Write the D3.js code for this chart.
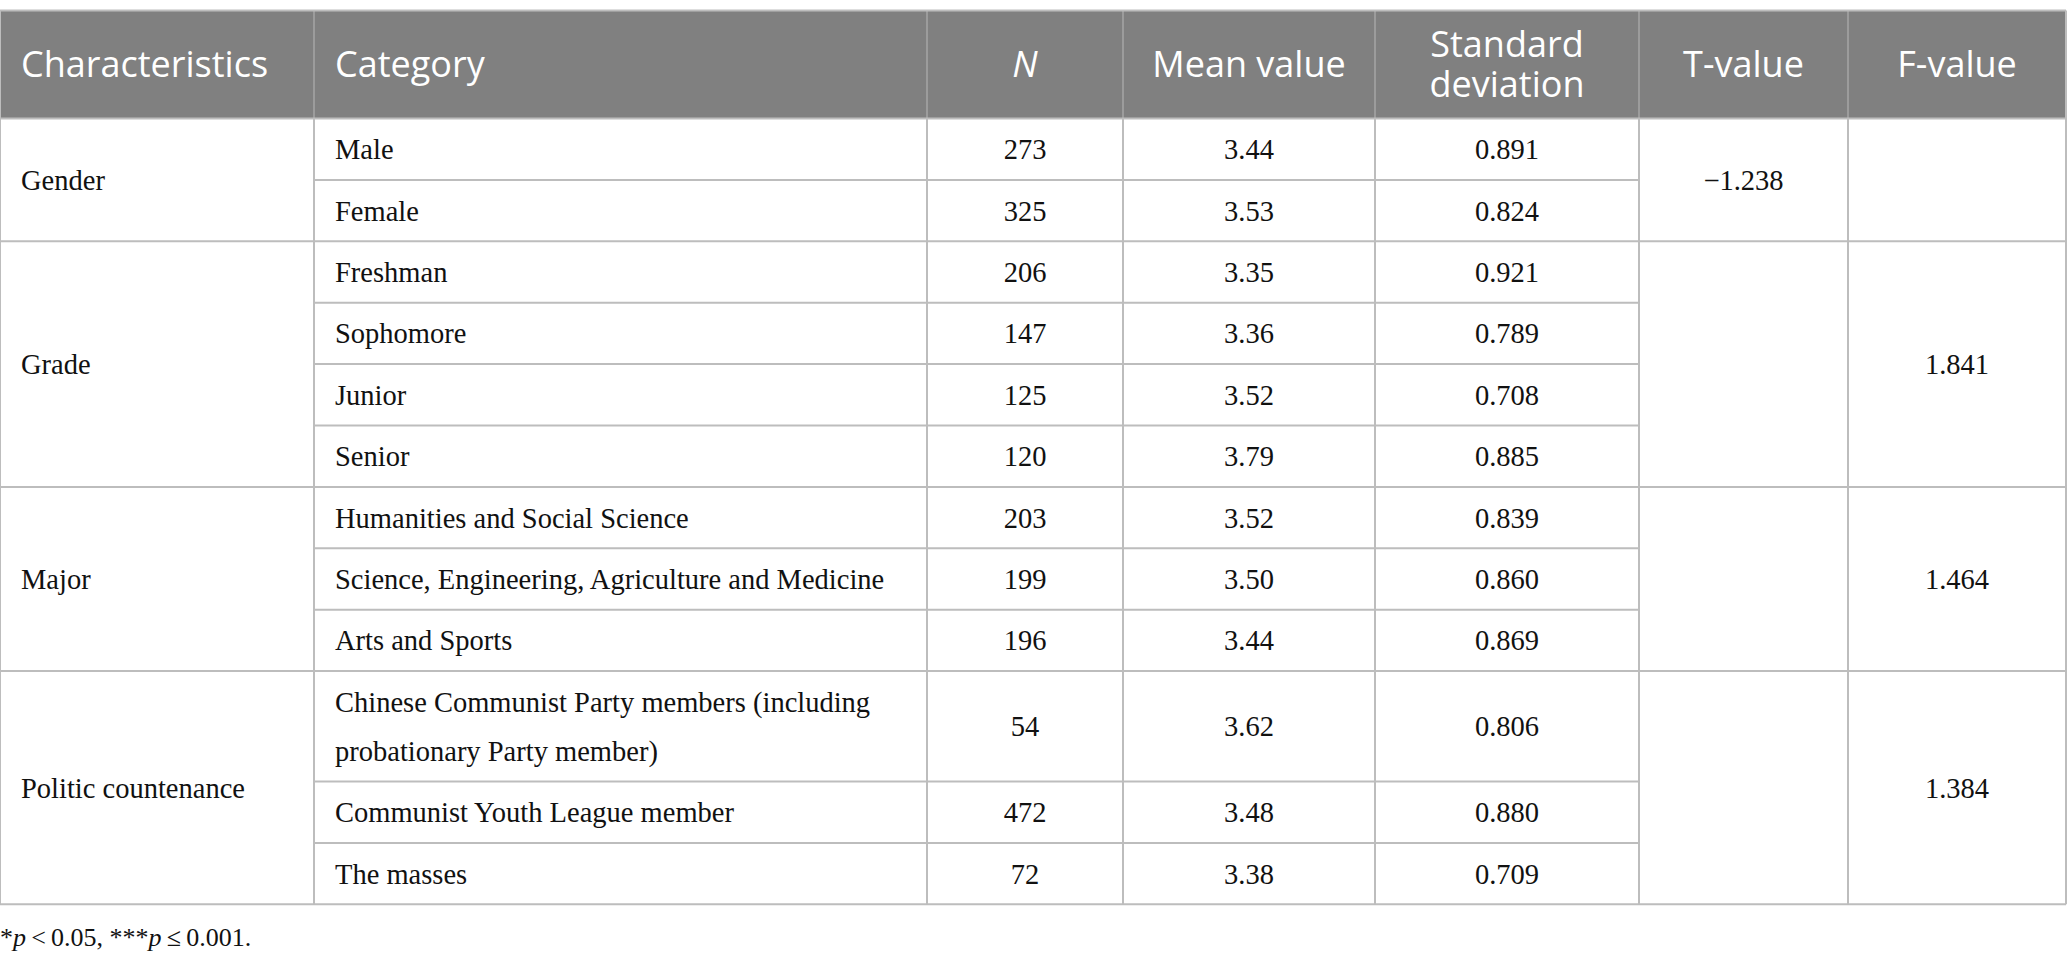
<!DOCTYPE html>
<html>
<head>
<meta charset="utf-8">
<script src="https://cdn.jsdelivr.net/npm/d3@7"></script>
<style>
  body { margin: 0; background: #fff; }
  .head { font-family: "Open Sans", sans-serif; fill: #fff; }
  .cell { font-family: "Liberation Serif", serif; fill: #111; }
</style>
</head>
<body>
<div id="table"></div>
<script>
// table content
var headers = ["Characteristics", "Category", "N", "Mean value", "Standard deviation", "T-value", "F-value"];
var groups = ["Gender", "Grade", "Major", "Politic countenance"];
var groupSizes = [2, 4, 3, 3];
var categories = ["Male", "Female", "Freshman", "Sophomore", "Junior", "Senior",
  "Humanities and Social Science", "Science, Engineering, Agriculture and Medicine", "Arts and Sports",
  "Chinese Communist Party members (including probationary Party member)",
  "Communist Youth League member", "The masses"];
var nValues = [273, 325, 206, 147, 125, 120, 203, 199, 196, 54, 472, 72];
var meanValues = [3.44, 3.53, 3.35, 3.36, 3.52, 3.79, 3.52, 3.50, 3.44, 3.62, 3.48, 3.38];
var sdValues = [0.891, 0.824, 0.921, 0.789, 0.708, 0.885, 0.839, 0.860, 0.869, 0.806, 0.880, 0.709];
var tValues = [-1.238, null, null, null];
var fValues = [null, 1.841, 1.464, 1.384];

// layout
var width = 2067, height = 964;
var top0 = 10.5, headH = 108, rowH = 61.4, lineGap = 49;
var colEdges = [0, 314, 927, 1123, 1375, 1639, 1848, 2066];
var pad = 21;
var lineColor = "#bdbdbd";
var bodySize = 28.5, headSize = 36, headGap = 40;

var colLeft = d3.scaleOrdinal().domain(d3.range(7)).range(colEdges.slice(0, 7));
var colRight = d3.scaleOrdinal().domain(d3.range(7)).range(colEdges.slice(1));
var colMid = function(i) { return (colLeft(i) + colRight(i)) / 2; };

var svg = d3.select("#table").append("svg")
  .attr("width", width)
  .attr("height", height);

// wrap category labels so they fit the column
function wrapLines(text, maxW, size) {
  var probe = svg.append("text").attr("class", "cell").attr("font-size", size);
  var words = text.split(" "), lines = [], cur = "";
  words.forEach(function(w) {
    var test = cur ? cur + " " + w : w;
    probe.text(test);
    if (probe.node().getComputedTextLength() > maxW && cur) {
      lines.push(cur);
      cur = w;
    } else {
      cur = test;
    }
  });
  lines.push(cur);
  probe.remove();
  return lines;
}

var catLines = categories.map(function(c) { return wrapLines(c, 580, bodySize); });
var rowHeights = catLines.map(function(l) { return rowH + (l.length - 1) * lineGap; });
var rowTops = [0].concat(Array.from(d3.cumsum(rowHeights))).map(function(v) { return top0 + headH + v; });

var groupStart = [0].concat(Array.from(d3.cumsum(groupSizes)));
var groupTop = function(g) { return rowTops[groupStart[g]]; };
var groupBottom = function(g) { return rowTops[groupStart[g + 1]]; };

// header band
svg.append("rect")
  .attr("x", 0).attr("y", top0)
  .attr("width", colEdges[7]).attr("height", headH)
  .attr("fill", "#808080");

var headG = svg.append("g");
headers.forEach(function(h, i) {
  var left = i < 2;
  var parts = h === "Standard deviation" ? ["Standard", "deviation"] : [h];
  var t = headG.append("text")
    .attr("class", "head")
    .attr("font-size", headSize)
    .attr("text-anchor", left ? "start" : "middle")
    .attr("font-style", h === "N" ? "italic" : "normal")
    .attr("x", left ? colLeft(i) + pad : colMid(i));
  parts.forEach(function(p, k) {
    t.append("tspan")
      .attr("x", left ? colLeft(i) + pad : colMid(i))
      .attr("y", top0 + headH / 2 + (k - (parts.length - 1) / 2) * headGap)
      .attr("dy", "0.35em")
      .text(p);
  });
});

// header column separators
svg.append("g").selectAll("line")
  .data(colEdges.slice(1, 7))
  .join("line")
  .attr("x1", function(d) { return d; }).attr("x2", function(d) { return d; })
  .attr("y1", top0).attr("y2", top0 + headH)
  .attr("stroke", "#a6a6a6").attr("stroke-width", 1.5);

var body = svg.append("g");
var fmt2 = d3.format(".2f"), fmt3 = d3.format(".3f");
var fmtT = function(v) { return fmt3(v).replace("-", "\u2212"); };

function cellText(x, yMid, lines, anchor) {
  var t = body.append("text")
    .attr("class", "cell")
    .attr("font-size", bodySize)
    .attr("text-anchor", anchor);
  lines.forEach(function(l, k) {
    t.append("tspan")
      .attr("x", x)
      .attr("y", yMid + (k - (lines.length - 1) / 2) * lineGap)
      .attr("dy", "0.35em")
      .text(l);
  });
}

// per-row cells
categories.forEach(function(c, r) {
  var yMid = (rowTops[r] + rowTops[r + 1]) / 2;
  cellText(colLeft(1) + pad, yMid, catLines[r], "start");
  cellText(colMid(2), yMid, [String(nValues[r])], "middle");
  cellText(colMid(3), yMid, [fmt2(meanValues[r])], "middle");
  cellText(colMid(4), yMid, [fmt3(sdValues[r])], "middle");
});

// merged group cells
groups.forEach(function(g, gi) {
  var yMid = (groupTop(gi) + groupBottom(gi)) / 2;
  cellText(colLeft(0) + pad, yMid, [g], "start");
  if (tValues[gi] !== null) cellText(colMid(5), yMid, [fmtT(tValues[gi])], "middle");
  if (fValues[gi] !== null) cellText(colMid(6), yMid, [fmt3(fValues[gi])], "middle");
});

// grid lines
var grid = svg.append("g").attr("stroke", lineColor).attr("stroke-width", 2);
// inner row lines (category .. sd)
d3.range(1, categories.length).forEach(function(r) {
  if (groupStart.indexOf(r) >= 0) return;
  grid.append("line")
    .attr("x1", colEdges[1]).attr("x2", colEdges[5])
    .attr("y1", rowTops[r]).attr("y2", rowTops[r]);
});
// group lines across full width
groupStart.forEach(function(r) {
  grid.append("line")
    .attr("x1", 0).attr("x2", colEdges[7])
    .attr("y1", rowTops[r]).attr("y2", rowTops[r]);
});
// vertical lines in body
var bodyTop = rowTops[0], bodyBottom = rowTops[categories.length];
colEdges.forEach(function(x) {
  grid.append("line")
    .attr("x1", x).attr("x2", x)
    .attr("y1", x === 0 || x === colEdges[7] ? top0 : bodyTop).attr("y2", bodyBottom);
});
grid.append("line")
  .attr("x1", 0).attr("x2", colEdges[7])
  .attr("y1", top0).attr("y2", top0);

// footnote
var note = svg.append("text")
  .attr("class", "cell")
  .attr("font-size", 26)
  .attr("x", 0)
  .attr("y", bodyBottom + 33)
  .attr("dy", "0.35em");
note.append("tspan").text("*");
note.append("tspan").attr("font-style", "italic").text("p");
note.append("tspan").text("\u2009<\u20090.05, ***");
note.append("tspan").attr("font-style", "italic").text("p");
note.append("tspan").text("\u2009\u2264\u20090.001.");
</script>
</body>
</html>
